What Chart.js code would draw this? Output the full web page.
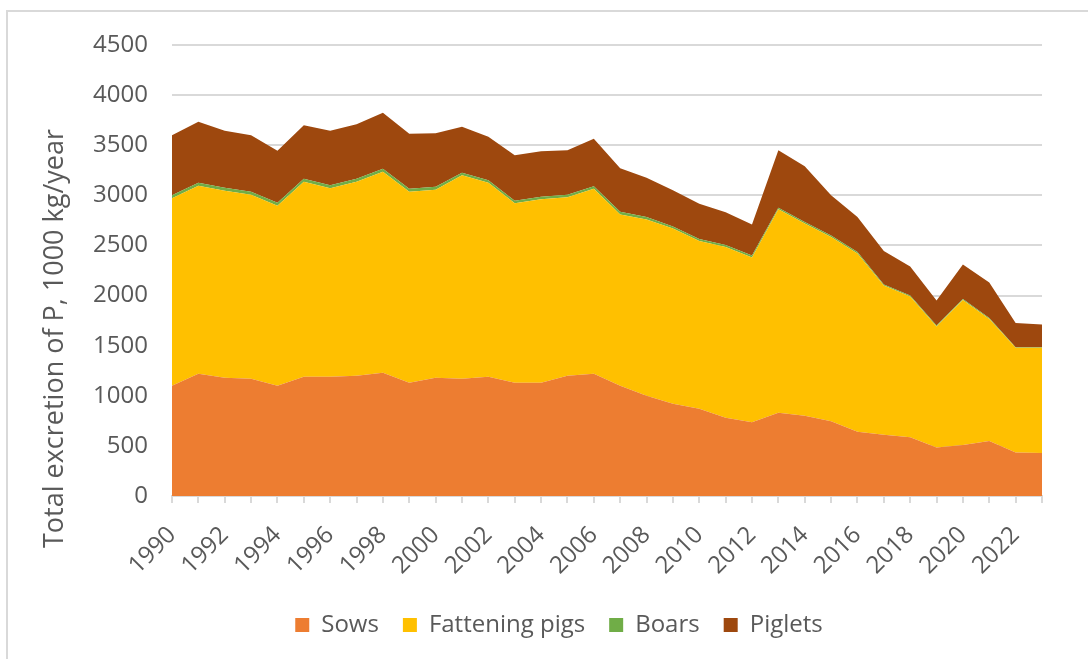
<!DOCTYPE html>
<html>
<head>
<meta charset="utf-8">
<script src="https://cdn.jsdelivr.net/npm/chart.js@4"></script>
<style>
  html, body { margin: 0; padding: 0; background: #fff; overflow: hidden; }
  #wrap { position: relative; width: 1088px; height: 659px; }
  #frame { position: absolute; left: 6px; top: 10px; width: 1200px; height: 800px; border: 2px solid #d9d9d9; box-sizing: border-box; }
  canvas { position: absolute; left: 0; top: 0; }
</style>
</head>
<body>
<div id="wrap">
  <div id="frame"></div>
  <canvas id="grafico" width="1088" height="659"></canvas>
</div>
<script>
const years = [1990, 1991, 1992, 1993, 1994, 1995, 1996, 1997, 1998, 1999,
  2000, 2001, 2002, 2003, 2004, 2005, 2006, 2007, 2008, 2009,
  2010, 2011, 2012, 2013, 2014, 2015, 2016, 2017, 2018, 2019,
  2020, 2021, 2022, 2023];

// 1000 kg P / year
const sows = [1100, 1220, 1180, 1170, 1100, 1190, 1190, 1200, 1230, 1130,
  1180, 1170, 1190, 1130, 1130, 1200, 1220, 1100, 1000, 920,
  870, 780, 735, 830, 800, 745, 640, 610, 585, 485,
  510, 550, 435, 430];
const fatteningPigs = [1870, 1875, 1865, 1835, 1795, 1945, 1880, 1935, 2005, 1905,
  1875, 2030, 1935, 1790, 1830, 1780, 1845, 1710, 1760, 1750,
  1675, 1705, 1645, 2030, 1920, 1840, 1780, 1490, 1405, 1205,
  1445, 1215, 1045, 1050];
const boars = [30, 30, 30, 30, 30, 30, 30, 30, 30, 30,
  30, 25, 25, 25, 25, 25, 25, 25, 25, 20,
  20, 20, 20, 15, 15, 15, 15, 10, 10, 10,
  10, 10, 5, 5];
const piglets = [600, 610, 570, 565, 520, 535, 545, 545, 560, 550,
  535, 460, 435, 455, 455, 445, 475, 435, 390, 360,
  350, 325, 310, 575, 555, 400, 350, 335, 290, 250,
  345, 355, 240, 225];

const tituloY = "Total excretion of P, 1000 kg/year";
const gris = "#595959";
const fuente = "'Open Sans', 'DejaVu Sans', sans-serif";

function serie(label, data, color, fill) {
  return {
    label: label,
    data: data,
    fill: fill,
    backgroundColor: color,
    borderColor: color,
    borderWidth: 0,
    pointRadius: 0,
    tension: 0,
  };
}

// Excel-style axis title: sits lower than the plot centre
const tituloEje = {
  id: "tituloEje",
  afterDraw(chart) {
    const ctx = chart.ctx;
    const area = chart.chartArea;
    ctx.save();
    ctx.translate(55, (area.top + area.bottom) / 2 + 68);
    ctx.rotate(-Math.PI / 2);
    ctx.font = "27px " + fuente;
    ctx.fillStyle = gris;
    ctx.textAlign = "center";
    ctx.textBaseline = "middle";
    ctx.fillText(tituloY, 0, 0);
    ctx.restore();
  },
};

// legend is centred a bit right of the canvas centre in the original
const moverLeyenda = {
  id: "moverLeyenda",
  afterLayout(chart) {
    chart.legend.left += 38;
    chart.legend.right += 38;
  },
};

new Chart(document.getElementById("grafico").getContext("2d"), {
  type: "line",
  data: {
    labels: years,
    datasets: [
      serie("Sows", sows, "#ED7D31", "origin"),
      serie("Fattening pigs", fatteningPigs, "#FFC000", "-1"),
      serie("Boars", boars, "#70AD47", "-1"),
      serie("Piglets", piglets, "#9E480E", "-1"),
    ],
  },
  plugins: [tituloEje, moverLeyenda],
  options: {
    responsive: false,
    animation: false,
    layout: { padding: { top: 45, right: 46, bottom: 12, left: 0 } },
    plugins: {
      legend: {
        position: "bottom",
        labels: {
          color: gris,
          font: { family: fuente, size: 24 },
          boxWidth: 14,
          boxHeight: 14,
          padding: 24,
        },
      },
      tooltip: { enabled: false },
    },
    scales: {
      x: {
        offset: false,
        grid: {
          display: true,
          drawOnChartArea: false,
          drawTicks: true,
          tickLength: 7,
          color: "#d9d9d9",
          lineWidth: 2,
        },
        border: { display: true, color: "#d9d9d9", width: 2 },
        ticks: {
          autoSkip: false,
          minRotation: 45,
          maxRotation: 45,
          color: gris,
          padding: 18,
          font: { family: fuente, size: 24 },
          callback: function (value, index) {
            return index % 2 === 0 ? years[index] : "";
          },
        },
        afterFit: function (scale) {
          scale.height = 93;
        },
      },
      y: {
        stacked: true,
        min: 0,
        max: 4500,
        grid: { color: "#d9d9d9", lineWidth: 2, drawTicks: false },
        border: { display: false },
        ticks: {
          stepSize: 500,
          color: gris,
          padding: 24,
          font: { family: fuente, size: 24 },
          callback: function (value) {
            return String(value);
          },
        },
        afterFit: function (scale) {
          scale.width = 172;
        },
      },
    },
  },
});
</script>
</body>
</html>
